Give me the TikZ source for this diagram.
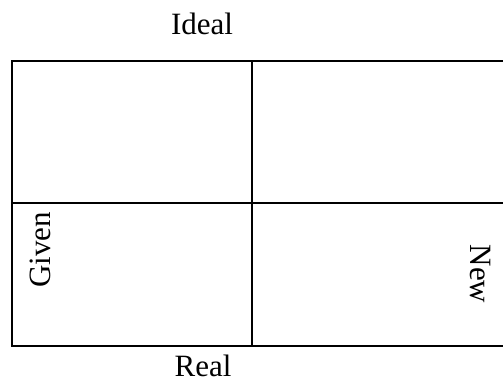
\documentclass[tikz,border=0pt]{standalone}
\usepackage{fontspec}
\setmainfont{Liberation Serif}
\tikzset{
  gridline/.style={line width=2.4bp, black},
  lbl/.style={font=\fontsize{31bp}{36bp}\selectfont, anchor=base, inner sep=0pt, text depth=0pt}
}
\begin{document}
\begin{tikzpicture}[x=1bp,y=-1bp]
\useasboundingbox (0,0) rectangle (503,381);
% grid
\draw[gridline] (503,61) -- (12,61) -- (12,346) -- (503,346);
\draw[gridline] (12,203) -- (503,203);
\draw[gridline] (252,61) -- (252,346);
% labels
\node[lbl] (ideal) at (202,34) {Ideal};
\node[lbl] (real) at (203,376.5) {Real};
\node[lbl, rotate=90] (given) at (50,250) {Given};
\node[lbl, rotate=-90] (new) at (470,274) {New};
\end{tikzpicture}
\end{document}
